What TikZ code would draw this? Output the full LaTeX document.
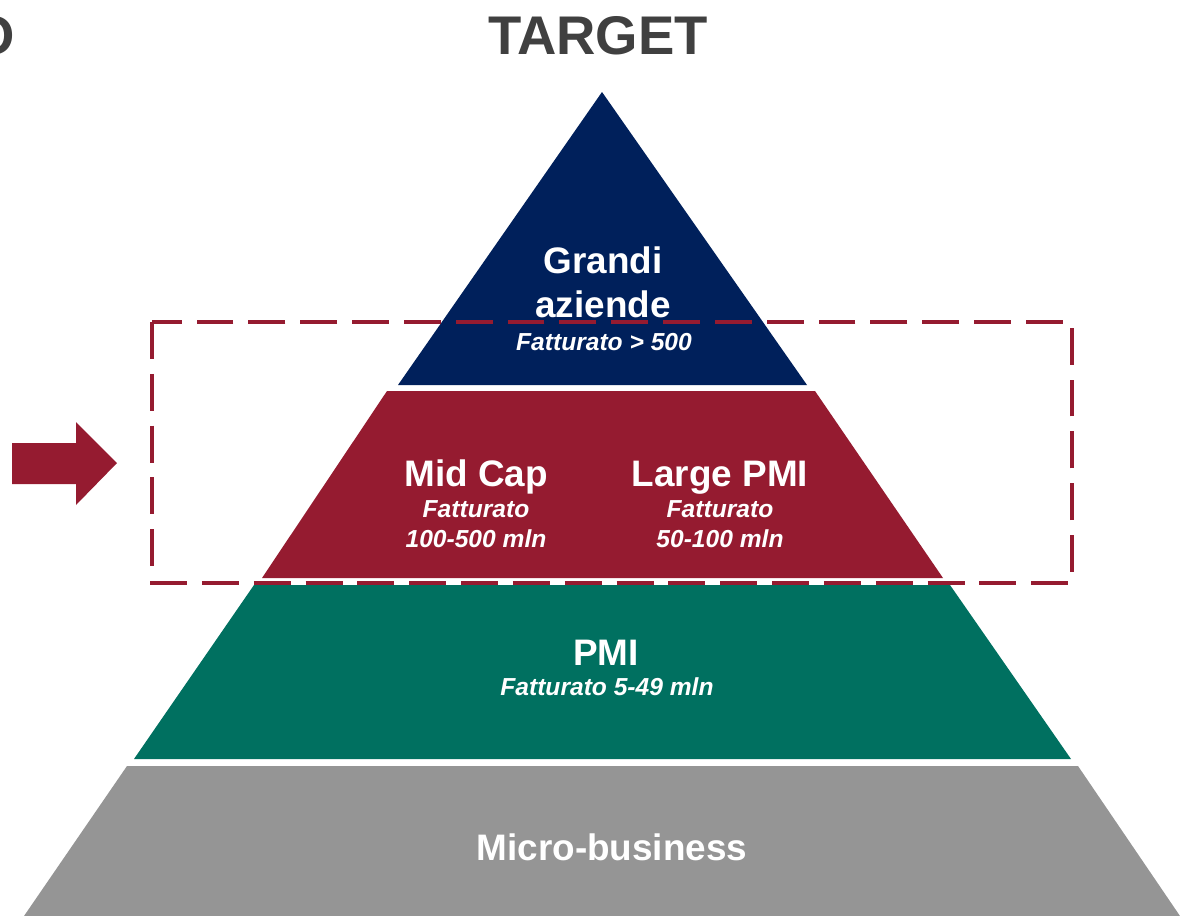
\documentclass[tikz,border=0pt]{standalone}
\usepackage{fontspec}
\setmainfont{Liberation Sans}
\usepackage{xcolor}
\usepackage{tikz}
\usetikzlibrary{calc}
\definecolor{navyblue}{RGB}{0,32,91}
\definecolor{wine}{RGB}{149,27,48}
\definecolor{pmigreen}{RGB}{0,112,96}
\definecolor{microgrey}{RGB}{149,149,149}
\definecolor{titlegrey}{RGB}{64,64,64}
\tikzset{
  heading/.style={inner sep=0pt, text=titlegrey, font=\fontsize{31}{36}\selectfont\bfseries},
  lbl/.style={inner sep=0pt, text=white, font=\fontsize{21}{25}\selectfont\bfseries},
  sublbl/.style={inner sep=0pt, text=white, font=\fontsize{14}{17}\selectfont\bfseries\itshape},
}

\begin{document}
\begin{tikzpicture}[x=0.02cm,y=-0.02cm]
        \useasboundingbox (0,0) rectangle (1180,916);
        %KOORDINAT
        \coordinate (T) at (602,92);
        \coordinate (BL) at (398,385);
        \coordinate (BR) at (807,385);
        %PIRAMIDE
        \fill[navyblue] (T) -- (BR) -- (BL) -- cycle;
        \fill[wine] (387,391) -- (815,391) -- (943,578) -- (262,578) -- cycle;
        \fill[pmigreen] (254,585) -- (950,585) -- (1071,759) -- (134,759) -- cycle;
        \fill[microgrey] (127,766) -- (1078,766) -- (1180,916) -- (24,916) -- cycle;
        %KOTAK PUTUS-PUTUS
        \draw[wine, line width=2.3pt, dash pattern=on 21pt off 8.5pt] (152,322) rectangle (1072,583);
        %PANAH
        \fill[wine] (12,443) -- (76,443) -- (76,422) -- (117,463) -- (76,505) -- (76,484) -- (12,484) -- cycle;
        %JUDUL
        \node[heading, anchor=base] (target) at (598,54) {TARGET};
        \node[heading, anchor=base east] (prev) at (15,54) {O};
        %TEKS
        \node[lbl, anchor=base] (grandi) at (603,273) {Grandi};
        \node[lbl, anchor=base] (aziende) at (603,317) {aziende};
        \node[sublbl, anchor=base] (fattgr) at (604,350) {Fatturato > 500};
        \node[lbl, anchor=base] (midcap) at (476,486) {Mid Cap};
        \node[sublbl, anchor=base] (fattmc) at (476,517) {Fatturato};
        \node[sublbl, anchor=base] (rangemc) at (476,547) {100-500 mln};
        \node[lbl, anchor=base] (largepmi) at (720,486) {Large PMI};
        \node[sublbl, anchor=base] (fattlp) at (720,517) {Fatturato};
        \node[sublbl, anchor=base] (rangelp) at (720,547) {50-100 mln};
        \node[lbl, anchor=base] (pmi) at (606,665) {PMI};
        \node[sublbl, anchor=base] (fattpmi) at (607,695) {Fatturato 5-49 mln};
        \node[lbl, anchor=base] (micro) at (612,860) {Micro-business};
    \end{tikzpicture}
\end{document}
